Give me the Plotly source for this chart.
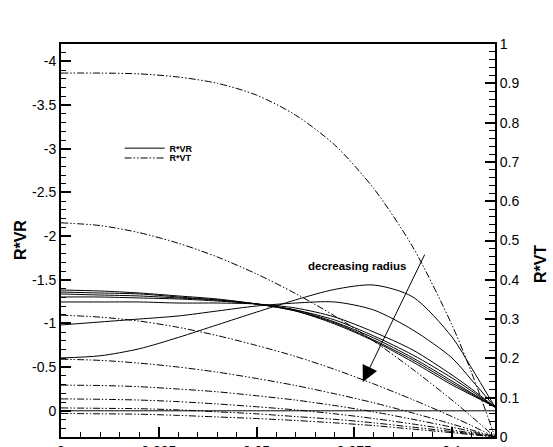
import plotly.graph_objects as go

# ---------------- data ----------------
X = [0, 0.01, 0.02, 0.03, 0.04, 0.05, 0.06, 0.07, 0.08, 0.09, 0.1, 0.105, 0.111]

# R*VR curves (left axis, solid)
RVR_1 = [-1.383, -1.372, -1.349, -1.315, -1.280, -1.223, -1.143, -0.994, -0.799, -0.559, -0.296, -0.181, -0.043]
RVR_2 = [-1.360, -1.349, -1.338, -1.303, -1.269, -1.223, -1.143, -1.006, -0.811, -0.582, -0.318, -0.193, -0.043]
RVR_3 = [-1.338, -1.326, -1.315, -1.292, -1.269, -1.223, -1.154, -1.017, -0.834, -0.605, -0.341, -0.204, -0.043]
RVR_4 = [-1.303, -1.303, -1.292, -1.280, -1.257, -1.223, -1.154, -1.040, -0.857, -0.639, -0.376, -0.227, -0.043]
RVR_5 = [-1.246, -1.246, -1.246, -1.234, -1.234, -1.223, -1.177, -1.074, -0.902, -0.696, -0.410, -0.250, -0.043]
RVR_6 = [-0.983, -1.017, -1.051, -1.086, -1.143, -1.200, -1.234, -1.246, -1.154, -0.925, -0.605, -0.353, -0.043]
RVR_7 = [-0.605, -0.630, -0.710, -0.840, -0.985, -1.130, -1.270, -1.390, -1.440, -1.303, -0.845, -0.490, -0.043]
RVR_8 = [0, 0, 0, 0, 0, 0, 0, 0, 0, 0, 0, 0, 0]

# R*VT curves (right axis, dash-dot-dot)
RVT_1 = [0.926, 0.926, 0.924, 0.916, 0.900, 0.870, 0.819, 0.743, 0.632, 0.483, 0.285, 0.164, 0.0]
RVT_2 = [0.545, 0.538, 0.520, 0.493, 0.458, 0.415, 0.365, 0.308, 0.244, 0.172, 0.094, 0.052, 0.0]
RVT_3 = [0.310, 0.305, 0.295, 0.279, 0.258, 0.233, 0.205, 0.172, 0.135, 0.095, 0.052, 0.029, 0.0]
RVT_4 = [0.198, 0.195, 0.188, 0.178, 0.165, 0.149, 0.131, 0.110, 0.087, 0.061, 0.033, 0.018, 0.0]
RVT_5 = [0.132, 0.131, 0.128, 0.122, 0.115, 0.105, 0.094, 0.080, 0.064, 0.045, 0.025, 0.014, 0.0]
RVT_6 = [0.097, 0.096, 0.094, 0.090, 0.084, 0.077, 0.069, 0.059, 0.047, 0.033, 0.018, 0.010, 0.0]
RVT_7 = [0.074, 0.073, 0.072, 0.069, 0.064, 0.059, 0.052, 0.045, 0.036, 0.025, 0.014, 0.008, 0.0]
RVT_8 = [0.060, 0.059, 0.058, 0.055, 0.051, 0.047, 0.042, 0.036, 0.029, 0.020, 0.011, 0.006, 0.0]

RVR_SERIES = [RVR_1, RVR_2, RVR_3, RVR_4, RVR_5, RVR_6, RVR_7, RVR_8]
RVT_SERIES = [RVT_1, RVT_2, RVT_3, RVT_4, RVT_5, RVT_6, RVT_7, RVT_8]

X_TICKS = [0, 0.025, 0.05, 0.075, 0.1]
X_TICKTEXT = ["0", "0.025", "0.05", "0.075", "0.1"]
L_TICKS = [-4, -3.5, -3, -2.5, -2, -1.5, -1, -0.5, 0]
L_TICKTEXT = ["-4", "-3.5", "-3", "-2.5", "-2", "-1.5", "-1", "-0.5", "0"]
R_TICKS = [0, 0.1, 0.2, 0.3, 0.4, 0.5, 0.6, 0.7, 0.8, 0.9, 1]
R_TICKTEXT = ["0", "0.1", "0.2", "0.3", "0.4", "0.5", "0.6", "0.7", "0.8", "0.9", "1"]

FONT = "Arial, Liberation Sans, sans-serif"
DASH = "7px,2px,1.5px,2px,1.5px,2px"

fig = go.Figure()

for i, s in enumerate(RVR_SERIES):
    fig.add_trace(go.Scatter(
        x=X, y=s, mode="lines", yaxis="y",
        line=dict(color="black", width=1, shape="spline", smoothing=0.8),
        name="<b>R*VR</b>", showlegend=(i == 0), legend="legend", hoverinfo="skip"))

for i, s in enumerate(RVT_SERIES):
    fig.add_trace(go.Scatter(
        x=X, y=s, mode="lines", yaxis="y2",
        line=dict(color="black", width=1, dash=DASH, shape="spline", smoothing=0.8),
        name="<b>R*VT</b>", showlegend=(i == 0), legend="legend2", hoverinfo="skip"))

tickfont = dict(family=FONT, size=14, color="black")

fig.update_layout(
    width=553, height=447,
    margin=dict(l=61, r=58, t=44, b=10, autoexpand=False),
    paper_bgcolor="white", plot_bgcolor="white",
    xaxis=dict(range=[0, 0.111], tickvals=X_TICKS, ticktext=X_TICKTEXT, automargin=False,
               ticks="inside", ticklen=10, tickwidth=2, tickcolor="black",
               minor=dict(ticks="inside", dtick=0.005, tick0=0, ticklen=5, tickwidth=1, tickcolor="black"),
               showline=True, linewidth=2, linecolor="black", mirror=True,
               showgrid=False, zeroline=False, tickfont=tickfont),
    yaxis=dict(range=[0.3, -4.2], tickvals=L_TICKS, ticktext=L_TICKTEXT, automargin=False,
               ticks="inside", ticklen=10, tickwidth=2, tickcolor="black",
               minor=dict(ticks="inside", dtick=0.1, tick0=0, ticklen=5, tickwidth=1, tickcolor="black"),
               showline=True, linewidth=2, linecolor="black",
               showgrid=False, zeroline=False, tickfont=tickfont),
    yaxis2=dict(range=[0, 1], tickvals=R_TICKS, ticktext=R_TICKTEXT, overlaying="y", side="right",
                automargin=False,
                ticks="inside", ticklen=10, tickwidth=2, tickcolor="black",
                minor=dict(ticks="inside", dtick=0.02, tick0=0, ticklen=6, tickwidth=1, tickcolor="black"),
                showline=True, linewidth=2, linecolor="black",
                showgrid=False, zeroline=False, tickfont=tickfont),
    legend=dict(x=0.135, y=0.735, xanchor="left", yanchor="middle", bgcolor="rgba(0,0,0,0)",
                itemwidth=40, font=dict(family=FONT, size=9, color="black")),
    legend2=dict(x=0.135, y=0.71, xanchor="left", yanchor="middle", bgcolor="rgba(0,0,0,0)",
                 itemwidth=40, font=dict(family=FONT, size=9, color="black")),
    annotations=[
        dict(text="<b>R*VR</b>", xref="paper", yref="paper", x=-0.0945, y=0.501, showarrow=False,
             xanchor="center", yanchor="middle",
             textangle=-90, font=dict(family=FONT, size=16, color="black")),
        dict(text="<b>R*VT</b>", xref="paper", yref="paper", x=1.1037, y=0.44, showarrow=False,
             xanchor="center", yanchor="middle",
             textangle=-90, font=dict(family=FONT, size=16, color="black")),
        dict(text="<b>decreasing radius</b>", xref="x", yref="y2", x=0.0757, y=0.435, showarrow=False,
             font=dict(family=FONT, size=11.5, color="black")),
        dict(text="", xref="x", yref="y2", x=0.0772, y=0.14, ax=0.0932, ay=0.468,
             axref="x", ayref="y2", showarrow=True, arrowhead=2, arrowsize=3.2,
             arrowwidth=1, arrowcolor="black"),
    ],
)

fig.write_html("out.html")
